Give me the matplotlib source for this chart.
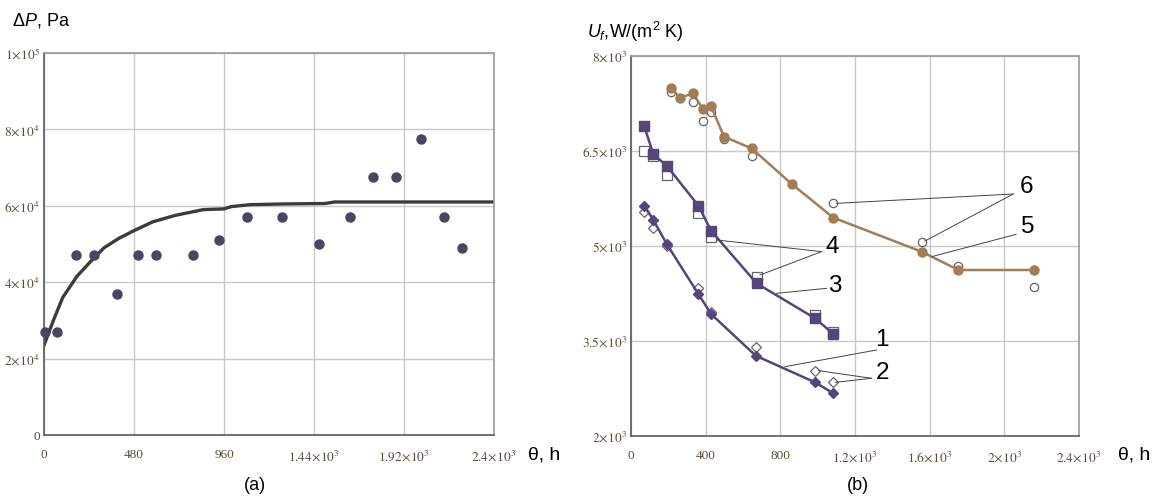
import matplotlib
matplotlib.use("Agg")
import matplotlib.pyplot as plt

# ---------------- data ----------------
# (a) pressure drop vs time
theta_pts = [5, 71, 173, 269, 387, 502, 598, 794, 931, 1085, 1270, 1466, 1630, 1755, 1875, 2013, 2131, 2230]
dp_pts = [27000, 27000, 47000, 47000, 37000, 47000, 47000, 47000, 51000, 57000, 57000,
          50000, 57000, 67500, 67500, 77500, 57000, 49000]

theta_fit = [0, 50, 100, 175, 250, 320, 400, 480, 580, 700, 850, 960, 1000, 1100, 1300, 1500, 1550, 1800, 2100, 2400]
dp_fit = [23500, 30000, 36000, 41500, 45500, 49000, 51500, 53500, 55800, 57500, 59000, 59200,
          59800, 60300, 60500, 60600, 61000, 61000, 61000, 61000]

# (b) overall heat transfer coefficient vs time
th_12 = [70, 120, 191, 361, 429, 668, 986, 1084]
u_1 = [5637, 5411, 5032, 4242, 3926, 3268, 2847, 2674]
u_2 = [5542, 5289, 5005, 4332, 3953, 3411, 3032, 2847]

th_34 = [70, 120, 191, 361, 429, 673, 986, 1084]
u_3 = [6900, 6447, 6268, 5637, 5242, 4410, 3858, 3611]
u_4 = [6500, 6426, 6121, 5526, 5137, 4505, 3911, 3637]

th_5 = [214, 262, 334, 384, 429, 498, 646, 861, 1084, 1557, 1754, 2159]
u_5 = [7495, 7342, 7410, 7163, 7210, 6726, 6542, 5979, 5447, 4910, 4621, 4621]
th_6 = [214, 334, 384, 429, 498, 646, 1084, 1557, 1754, 2159]
u_6 = [7426, 7268, 6979, 7121, 6689, 6421, 5674, 5068, 4689, 4347]

xa_ticks = [0, 480, 960, 1440, 1920, 2400]
xa_labels = ["0", "480", "960", r"$1.44\!\times\!10^{3}$", r"$1.92\!\times\!10^{3}$", r"$2.4\!\times\!10^{3}$"]
ya_ticks = [0, 20000, 40000, 60000, 80000, 100000]
ya_labels = ["0", r"$2\!\times\!10^{4}$", r"$4\!\times\!10^{4}$", r"$6\!\times\!10^{4}$",
             r"$8\!\times\!10^{4}$", r"$1\!\times\!10^{5}$"]
xb_ticks = [0, 400, 800, 1200, 1600, 2000, 2400]
xb_labels = ["0", "400", "800", r"$1.2\!\times\!10^{3}$", r"$1.6\!\times\!10^{3}$",
             r"$2\!\times\!10^{3}$", r"$2.4\!\times\!10^{3}$"]
yb_ticks = [2000, 3500, 5000, 6500, 8000]
yb_labels = [r"$2\!\times\!10^{3}$", r"$3.5\!\times\!10^{3}$", r"$5\!\times\!10^{3}$",
             r"$6.5\!\times\!10^{3}$", r"$8\!\times\!10^{3}$"]

# ---------------- style ----------------
plt.rcParams["font.family"] = ["Liberation Sans", "DejaVu Sans"]
plt.rcParams["mathtext.fontset"] = "custom"
plt.rcParams["mathtext.rm"] = "Liberation Sans"
plt.rcParams["mathtext.it"] = "Liberation Sans:italic"
plt.rcParams["mathtext.sf"] = "Liberation Sans"

tick_col = "#5b4a3a"
purple = "#54457a"
brown = "#a27d55"
open_edge = "#666666"
lead = "#444444"

fig = plt.figure(figsize=(11.61, 5.01), dpi=100)
ax_a = fig.add_axes([44 / 1161, 1 - 435 / 501, 450 / 1161, 382 / 501])
ax_b = fig.add_axes([631 / 1161, 1 - 436 / 501, 448 / 1161, 380 / 501])


def style_axes(ax, xt, xl, yt, yl):
    ax.set_xticks(xt)
    ax.set_xticklabels(xl)
    ax.set_yticks(yt)
    ax.set_yticklabels(yl)
    ax.tick_params(length=0, labelsize=9.5, labelcolor=tick_col)
    ax.tick_params(axis="x", pad=10)
    ax.tick_params(axis="y", pad=3)
    for t in ax.get_xticklabels() + ax.get_yticklabels():
        t.set_math_fontfamily("stix")
        t.set_family("Liberation Serif")
    ax.grid(True, color="#c8c8c8", lw=1.0)
    ax.set_axisbelow(True)
    ax.spines["left"].set_color("#5a5a5a")
    ax.spines["bottom"].set_color("#5a5a5a")
    ax.spines["top"].set_color("#9a9a9a")
    ax.spines["right"].set_color("#9a9a9a")
    for s in ax.spines.values():
        s.set_linewidth(1.2)


# ---------------- (a) ----------------
ax_a.plot(theta_fit, dp_fit, color="#3c3c3c", lw=2.4, zorder=2)
ax_a.plot(theta_pts, dp_pts, "o", color="#4a4560", ms=6.5, zorder=3, clip_on=False)
ax_a.set_xlim(0, 2400)
ax_a.set_ylim(0, 100000)
style_axes(ax_a, xa_ticks, xa_labels, ya_ticks, ya_labels)

fig.text(12 / 1161, 1 - 20 / 501, r"$\Delta\mathit{P}$, Pa", fontsize=13, va="center", ha="left")
fig.text(528 / 1161, 1 - 455 / 501, "θ, h", fontsize=14, va="center", ha="left")
fig.text(255 / 1161, 1 - 486 / 501, "(a)", fontsize=13, va="center", ha="center")

# ---------------- (b) ----------------
ax_b.plot(th_12, u_2, "D", mfc="white", mec=open_edge, mew=0.9, ms=5, zorder=3)
ax_b.plot(th_12, u_1, "-D", color=purple, lw=1.8, ms=5, zorder=4)
ax_b.plot(th_34, u_4, "s", mfc="white", mec=open_edge, mew=0.9, ms=6.5, zorder=3)
ax_b.plot(th_34, u_3, "-s", color=purple, lw=1.8, ms=6.5, zorder=4)
ax_b.plot(th_6, u_6, "o", mfc="white", mec=open_edge, mew=0.9, ms=6, zorder=3)
ax_b.plot(th_5, u_5, "-o", color=brown, lw=1.8, ms=6.5, zorder=4)
ax_b.set_xlim(0, 2400)
ax_b.set_ylim(2000, 8000)
style_axes(ax_b, xb_ticks, xb_labels, yb_ticks, yb_labels)

# curve numbers with leader lines
labels = [
    ("6", (2121, 5937), (2048, 5821), [(1102, 5674), (1575, 5079)]),
    ("5", (2123, 5295), (2063, 5184), [(1611, 4832)]),
    ("4", (1079, 4979), (1021, 4911), [(459, 5095), (691, 4542)]),
    ("3", (1093, 4368), (1048, 4332), [(780, 4253)]),
    ("1", (1343, 3516), (1316, 3358), [(825, 3095)]),
    ("2", (1346, 3000), (1289, 2911), [(1004, 3032), (1093, 2847)]),
]
for txt, tpos, start, ends in labels:
    ax_b.text(tpos[0], tpos[1], txt, fontsize=17.5, ha="center", va="center", zorder=6)
    for e in ends:
        ax_b.plot([start[0], e[0]], [start[1], e[1]], color=lead, lw=0.7, zorder=5)

fig.text(587 / 1161, 1 - 32 / 501, r"$\mathit{U}_{\mathit{f}}$,W/(m$^{2}$ K)", fontsize=13,
         va="center", ha="left")
fig.text(1118 / 1161, 1 - 455 / 501, "θ, h", fontsize=14, va="center", ha="left")
fig.text(858 / 1161, 1 - 486 / 501, "(b)", fontsize=13, va="center", ha="center")

fig.savefig("out.png", dpi=100)
